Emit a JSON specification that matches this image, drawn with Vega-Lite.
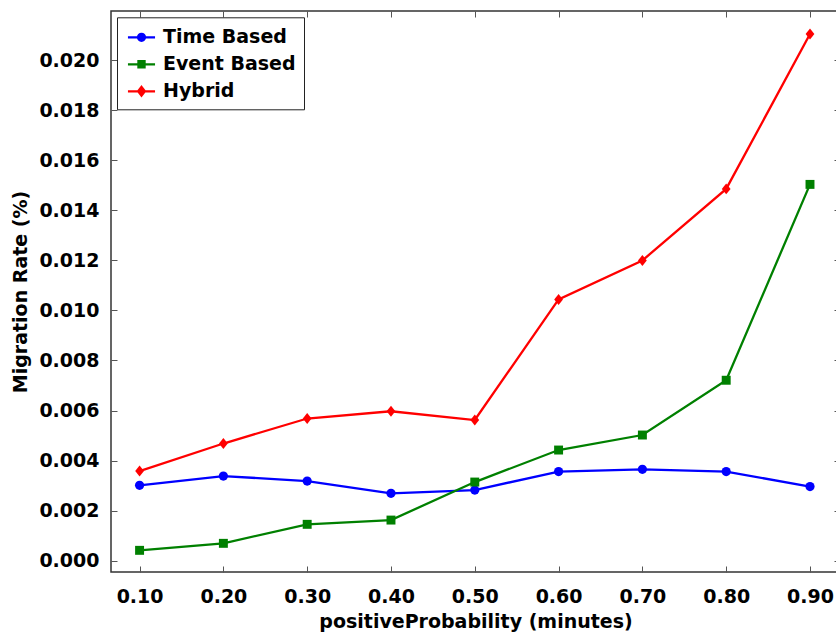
{
  "$schema": "https://vega.github.io/schema/vega-lite/v6.json",
  "width": 729,
  "height": 561,
  "autosize": {"type": "none"},
  "padding": {"left": 111, "top": 11, "right": -4, "bottom": 61},
  "background": "white",
  "config": {
    "view": {"stroke": "#333333", "strokeWidth": 1.5},
    "font": "DejaVu Sans",
    "axis": {
      "domain": false,
      "grid": false,
      "tickColor": "#555555",
      "tickSize": -6,
      "tickWidth": 1,
      "labelFont": "DejaVu Sans",
      "labelFontWeight": "bold",
      "labelFontSize": 19,
      "labelColor": "black",
      "titleFont": "DejaVu Sans",
      "titleFontWeight": "bold",
      "titleFontSize": 19,
      "titleColor": "black"
    }
  },
  "data": {
    "values": [
      {"p": 0.1, "series": "Time Based", "rate": 0.00301},
      {"p": 0.2, "series": "Time Based", "rate": 0.00338},
      {"p": 0.3, "series": "Time Based", "rate": 0.00318},
      {"p": 0.4, "series": "Time Based", "rate": 0.00269},
      {"p": 0.5, "series": "Time Based", "rate": 0.00282},
      {"p": 0.6, "series": "Time Based", "rate": 0.00356},
      {"p": 0.7, "series": "Time Based", "rate": 0.00365},
      {"p": 0.8, "series": "Time Based", "rate": 0.00356},
      {"p": 0.9, "series": "Time Based", "rate": 0.00296},
      {"p": 0.1, "series": "Event Based", "rate": 0.00041},
      {"p": 0.2, "series": "Event Based", "rate": 0.00069},
      {"p": 0.3, "series": "Event Based", "rate": 0.00145},
      {"p": 0.4, "series": "Event Based", "rate": 0.00162},
      {"p": 0.5, "series": "Event Based", "rate": 0.00314},
      {"p": 0.6, "series": "Event Based", "rate": 0.00442},
      {"p": 0.7, "series": "Event Based", "rate": 0.00502},
      {"p": 0.8, "series": "Event Based", "rate": 0.00721},
      {"p": 0.9, "series": "Event Based", "rate": 0.01504},
      {"p": 0.1, "series": "Hybrid", "rate": 0.00358},
      {"p": 0.2, "series": "Hybrid", "rate": 0.00468},
      {"p": 0.3, "series": "Hybrid", "rate": 0.00568},
      {"p": 0.4, "series": "Hybrid", "rate": 0.00597},
      {"p": 0.5, "series": "Hybrid", "rate": 0.00562},
      {"p": 0.6, "series": "Hybrid", "rate": 0.01044},
      {"p": 0.7, "series": "Hybrid", "rate": 0.012},
      {"p": 0.8, "series": "Hybrid", "rate": 0.01486},
      {"p": 0.9, "series": "Hybrid", "rate": 0.02105}
    ]
  },
  "layer": [
    {
      "mark": {"type": "line", "strokeWidth": 2.3},
      "encoding": {
        "x": {
          "field": "p",
          "type": "quantitative",
          "scale": {"domain": [0.0659, 0.9358], "nice": false, "zero": false},
          "axis": {
            "orient": "bottom",
            "values": [0.1, 0.2, 0.3, 0.4, 0.5, 0.6, 0.7, 0.8, 0.9],
            "format": ".2f",
            "labelPadding": 21,
            "title": "positiveProbability (minutes)",
            "titlePadding": 6
          }
        },
        "y": {
          "field": "rate",
          "type": "quantitative",
          "scale": {"domain": [-0.000456, 0.021972], "nice": false, "zero": false},
          "axis": {
            "orient": "left",
            "values": [0, 0.002, 0.004, 0.006, 0.008, 0.01, 0.012, 0.014, 0.016, 0.018, 0.02],
            "format": ".3f",
            "labelPadding": 18,
            "title": "Migration Rate (%)",
            "titlePadding": 8
          }
        },
        "color": {
          "field": "series",
          "type": "nominal",
          "scale": {
            "domain": ["Time Based", "Event Based", "Hybrid"],
            "range": ["#0000ff", "#008000", "#ff0000"]
          },
          "legend": {
            "orient": "none",
            "legendX": 6,
            "legendY": 6.3,
            "title": null,
            "direction": "vertical",
            "fillColor": "white",
            "strokeColor": "#222222",
            "padding": 8,
            "cornerRadius": 0,
            "symbolSize": 441,
            "symbolOffset": 4.5,
            "labelOffset": 9.5,
            "rowPadding": 5,
            "labelFont": "DejaVu Sans",
            "labelFontSize": 19,
            "labelFontWeight": "bold",
            "labelColor": "black",
            "symbolStrokeWidth": 2.3,
            "symbolOpacity": 1,
            "symbolType": {"expr": "datum.value === 'Time Based' ? 'M-1.29,0H1.29M0.33,0A0.33,0.33,0,1,1,-0.33,0A0.33,0.33,0,1,1,0.33,0ZM0.14,0A0.14,0.14,0,1,1,-0.14,0A0.14,0.14,0,1,1,0.14,0Z' : datum.value === 'Event Based' ? 'M-1.29,0H1.29M-0.29,-0.29H0.29V0.29H-0.29ZM-0.12,-0.12H0.12V0.12H-0.12Z' : 'M-1.29,0H1.29M0,-0.42L0.32,0L0,0.42L-0.32,0ZM0,-0.2L0.15,0L0,0.2L-0.15,0Z'"}
          }
        }
      }
    },
    {
      "transform": [{"filter": {"field": "series", "equal": "Time Based"}}],
      "mark": {"type": "point", "shape": "circle", "filled": true, "opacity": 1, "size": 85, "color": "#0000ff"},
      "encoding": {
        "x": {
          "field": "p",
          "type": "quantitative",
          "scale": {"domain": [0.0659, 0.9358], "nice": false, "zero": false},
          "axis": {
            "orient": "top",
            "values": [0.1, 0.2, 0.3, 0.4, 0.5, 0.6, 0.7, 0.8, 0.9],
            "labels": false,
            "title": null
          }
        },
        "y": {
          "field": "rate",
          "type": "quantitative",
          "scale": {"domain": [-0.000456, 0.021972], "nice": false, "zero": false},
          "axis": {
            "orient": "right",
            "values": [0, 0.002, 0.004, 0.006, 0.008, 0.01, 0.012, 0.014, 0.016, 0.018, 0.02],
            "labels": false,
            "title": null
          }
        }
      }
    },
    {
      "transform": [{"filter": {"field": "series", "equal": "Event Based"}}],
      "mark": {"type": "point", "shape": "square", "filled": true, "opacity": 1, "size": 80, "color": "#008000"},
      "encoding": {
        "x": {"field": "p", "type": "quantitative", "axis": null},
        "y": {"field": "rate", "type": "quantitative", "axis": null}
      }
    },
    {
      "transform": [{"filter": {"field": "series", "equal": "Hybrid"}}],
      "mark": {"type": "point", "shape": "M0,-1L0.8,0L0,1L-0.8,0Z", "filled": true, "opacity": 1, "size": 120, "color": "#ff0000"},
      "encoding": {
        "x": {"field": "p", "type": "quantitative", "axis": null},
        "y": {"field": "rate", "type": "quantitative", "axis": null}
      }
    }
  ],
  "resolve": {"axis": {"x": "independent", "y": "independent"}}
}
